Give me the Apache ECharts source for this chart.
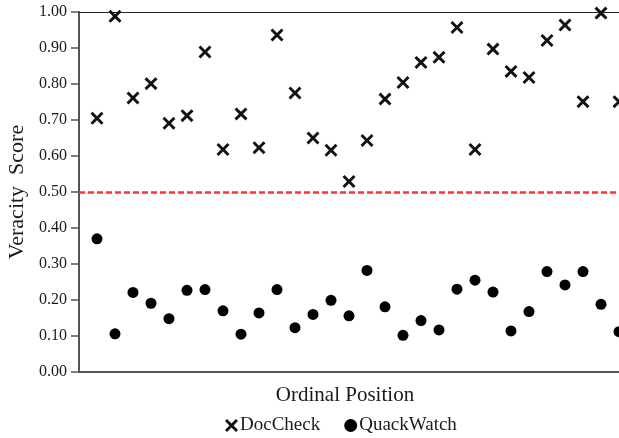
<!DOCTYPE html>
<html>
<head>
<meta charset="utf-8">
<script src="https://cdn.jsdelivr.net/npm/echarts@6/dist/echarts.min.js"></script>
<style>
html,body{margin:0;padding:0;background:#fff;}
#chart{width:619px;height:438px;}
</style>
</head>
<body>
<div id="chart"></div>
<script>
var positions = [1,2,3,4,5,6,7,8,9,10,11,12,13,14,15,16,17,18,19,20,21,22,23,24,25,26,27,28,29,30];
var docCheck = [0.705,0.988,0.761,0.801,0.691,0.712,0.889,0.618,0.717,0.623,0.936,0.775,0.650,0.616,0.529,0.643,0.758,0.804,0.860,0.874,0.957,0.618,0.897,0.835,0.818,0.921,0.964,0.751,0.997,0.751];
var quackWatch = [0.370,0.106,0.221,0.191,0.148,0.227,0.229,0.170,0.105,0.164,0.229,0.123,0.160,0.199,0.156,0.282,0.181,0.102,0.143,0.117,0.230,0.255,0.222,0.114,0.168,0.279,0.242,0.279,0.188,0.112];
var threshold = 0.5;
var yTicks = {min:0, max:1, interval:0.1};

var serif = '"Liberation Serif","DejaVu Serif",serif';
var crossPath = 'path://M0,1.9L1.9,0L6,4.1L10.1,0L12,1.9L7.9,6L12,10.1L10.1,12L6,7.9L1.9,12L0,10.1L4.1,6Z';

function pairs(vals){ return positions.map(function(p,i){ return [p, vals[i]]; }); }

var chart = echarts.init(document.getElementById('chart'), null, {renderer:'canvas'});
chart.setOption({
  animation:false,
  backgroundColor:'#fff',
  title:{
    text:'Ordinal Position',
    left:340, top:380, textAlign:'center',
    textStyle:{fontFamily:serif, fontSize:21, fontWeight:'normal', color:'#1a1a1a'}
  },
  legend:{
    left:220, top:411,
    itemWidth:13, itemHeight:13, itemGap:24,
    textStyle:{fontFamily:serif, fontSize:19, color:'#1a1a1a', padding:[0,0,0,-3]},
    data:[{name:'DocCheck', icon:crossPath},{name:'QuackWatch', icon:'circle'}]
  },
  grid:{left:79, top:12, right:0, height:360, containLabel:false, outerBoundsMode:'none'},
  xAxis:[{
    type:'value', min:0, max:30, position:'bottom',
    axisLine:{show:true, lineStyle:{color:'#555', width:2}},
    axisTick:{show:false}, axisLabel:{show:false}, splitLine:{show:false}
  },{
    type:'value', min:0, max:30, position:'top',
    axisLine:{show:true, onZero:false, lineStyle:{color:'#222', width:1.2}},
    axisTick:{show:false}, axisLabel:{show:false}, splitLine:{show:false}
  }],
  yAxis:{
    type:'value', min:yTicks.min, max:yTicks.max, interval:yTicks.interval,
    name:'Veracity  Score', nameLocation:'middle', nameGap:43,
    nameTextStyle:{fontFamily:serif, fontSize:22, color:'#1a1a1a'},
    axisLine:{show:true, lineStyle:{color:'#555', width:2}},
    axisTick:{show:true, inside:false, length:8, lineStyle:{color:'#555', width:1.5}},
    axisLabel:{fontFamily:serif, fontSize:16, color:'#1a1a1a', margin:12,
      formatter:function(v){ return v.toFixed(2); }},
    splitLine:{show:false}
  },
  series:[
    {
      name:'DocCheck', type:'scatter', data:pairs(docCheck),
      symbol:crossPath, symbolSize:13, clip:false,
      itemStyle:{color:'#111', opacity:1},
      markLine:{
        silent:true, symbol:['none','none'], label:{show:false},
        lineStyle:{color:'#ff3333', width:2.5, type:[6,3]},
        data:[{yAxis:threshold}]
      },
      z:3
    },
    {
      name:'QuackWatch', type:'scatter', data:pairs(quackWatch),
      symbol:'circle', symbolSize:11, clip:false,
      itemStyle:{color:'#000', opacity:1},
      z:3
    }
  ]
});
</script>
</body>
</html>
